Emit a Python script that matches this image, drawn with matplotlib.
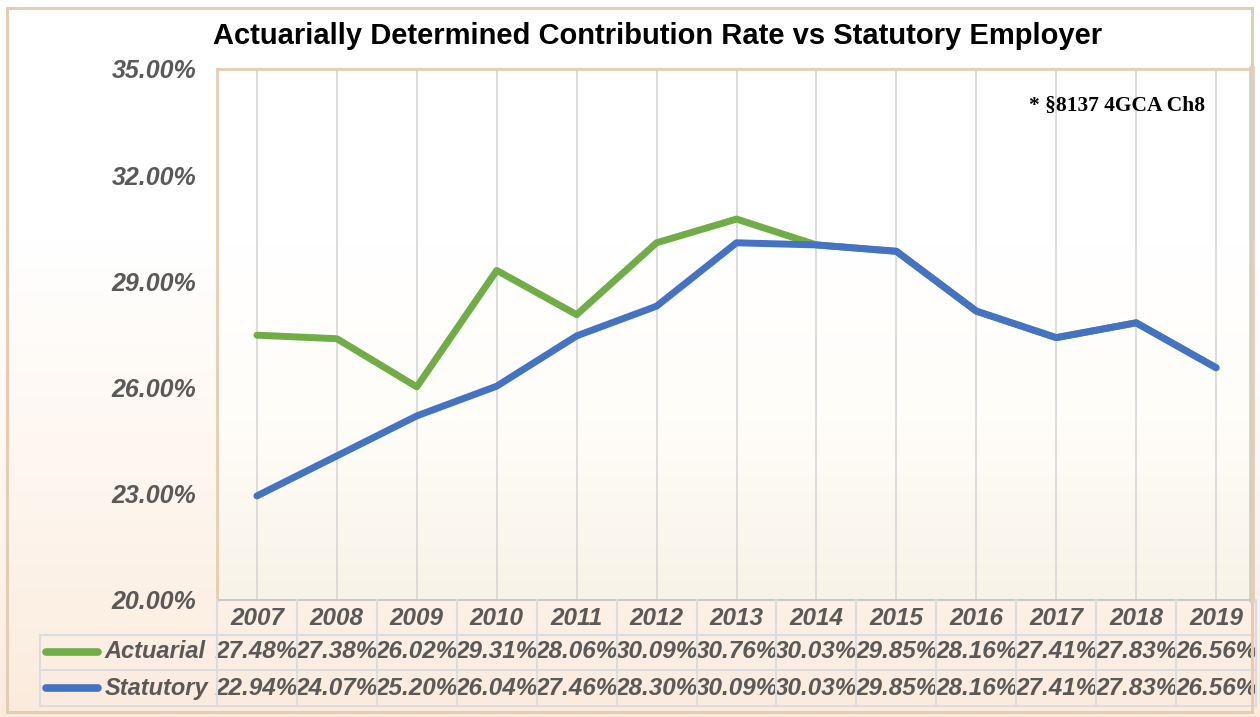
# Actuarial vs statutory contribution rate line chart with data table

import matplotlib
matplotlib.use("Agg")
import matplotlib.pyplot as plt
import numpy as np
from matplotlib.colors import LinearSegmentedColormap
from matplotlib.transforms import blended_transform_factory
from matplotlib.patches import Rectangle
from matplotlib.lines import Line2D

years = ['2007', '2008', '2009', '2010', '2011', '2012', '2013',
         '2014', '2015', '2016', '2017', '2018', '2019']
actuarial = [27.48, 27.38, 26.02, 29.31, 28.06, 30.09, 30.76,
             30.03, 29.85, 28.16, 27.41, 27.83, 26.56]
statutory = [22.94, 24.07, 25.20, 26.04, 27.46, 28.30, 30.09,
             30.03, 29.85, 28.16, 27.41, 27.83, 26.56]
series_names = ['Actuarial', 'Statutory']
yticks = [20, 23, 26, 29, 32, 35]

green = '#70AD47'
blue = '#4472C4'
gray_txt = '#595959'
tan = '#E6CDB2'
grid_c = '#D9DCE1'

plt.rcParams['font.family'] = ['Liberation Sans', 'DejaVu Sans']

fig = plt.figure(figsize=(12.6, 7.17), dpi=100)

# background gradient for whole figure
bg = fig.add_axes([0, 0, 1, 1], zorder=-5)
bg_cmap = LinearSegmentedColormap.from_list('bg', ['#FFFFFF', '#FFFFFF', '#FEF6EF', '#FBEBDD'])
bg.imshow(np.linspace(0, 1, 256).reshape(-1, 1), aspect='auto', cmap=bg_cmap,
          extent=[0, 1, 0, 1], origin='upper')
bg.set_axis_off()
fig.patches.append(Rectangle((0.0055, 0.007), 0.988, 0.982, transform=fig.transFigure,
                             fill=False, edgecolor=tan, lw=2.2, zorder=10))

ax = fig.add_axes([0.1722, 0.1632, 0.8215, 0.7406])
x = np.arange(len(years))

# plot area gradient
pa_cmap = LinearSegmentedColormap.from_list('pa', ['#FFFFFF', '#FFFFFF', '#FFFDF8', '#F8F3E8'])
ax.imshow(np.linspace(0, 1, 256).reshape(-1, 1), aspect='auto', cmap=pa_cmap,
          extent=[-0.5, 12.5, 20, 35], origin='upper', zorder=0)

for xi in x:
    ax.axvline(xi, color='#D9D9D9', lw=1.3, zorder=1)

ax.plot(x, actuarial, color=green, lw=5, solid_capstyle='round',
        solid_joinstyle='round', zorder=3)
ax.plot(x, statutory, color=blue, lw=5, solid_capstyle='round',
        solid_joinstyle='round', zorder=4)

ax.set_xlim(-0.5, 12.45)
ax.set_ylim(20, 35)
ax.set_yticks(yticks)
ax.set_yticklabels(['%.2f%%' % v for v in yticks], fontsize=18,
                   fontweight='bold', fontstyle='italic', color=gray_txt)
ax.tick_params(axis='y', length=0, pad=15)
ax.set_xticks([])
for s in ['left', 'top']:
    ax.spines[s].set_color(tan)
    ax.spines[s].set_linewidth(2)
ax.spines['right'].set_color('#D3CCC3')
ax.spines['right'].set_linewidth(4)
ax.spines['bottom'].set_color('#C9C9C9')
ax.spines['bottom'].set_linewidth(1.5)

fig.text(0.169, 0.950, 'Actuarially Determined Contribution Rate vs Statutory Employer',
         fontsize=21, fontweight='bold', color='black', va='center', ha='left')
ax.text(0.955, 0.93, '* \u00a78137 4GCA Ch8', transform=ax.transAxes,
        fontsize=15.5, fontweight='bold', family=['Liberation Serif', 'DejaVu Serif'],
        ha='right', va='center')

# data table below the axis
tr = blended_transform_factory(ax.transData, fig.transFigure)
y_hdr, y_row1, y_row2 = 0.138, 0.0907, 0.0404
lines_y = [0.1632, 0.1144, 0.0656, 0.0153]
txt_kw = dict(fontweight='bold', fontstyle='italic', color=gray_txt,
              ha='center', va='center', transform=tr)
for i, yr in enumerate(years):
    ax.text(i, y_hdr, yr, fontsize=17.5, **txt_kw)
    ax.text(i, y_row1, '%.2f%%' % actuarial[i], fontsize=17.5, **txt_kw)
    ax.text(i, y_row2, '%.2f%%' % statutory[i], fontsize=17.5, **txt_kw)

for xb in np.arange(-0.5, 13.0, 1.0):
    fig.add_artist(Line2D([xb, xb], [lines_y[0], lines_y[3]], transform=tr,
                          color=grid_c, lw=1.5))
for yl in lines_y[1:]:
    fig.add_artist(Line2D([0.0317, 0.996], [yl, yl], transform=fig.transFigure,
                          color=grid_c, lw=1.5))
fig.add_artist(Line2D([0.0317, 0.0317], [lines_y[1], lines_y[3]],
                      transform=fig.transFigure, color=grid_c, lw=1.5))

for yy, name, col in [(y_row1, series_names[0], green), (y_row2, series_names[1], blue)]:
    fig.add_artist(Line2D([0.0365, 0.078], [yy, yy], transform=fig.transFigure,
                          color=col, lw=5.5, solid_capstyle='round'))
    fig.text(0.083, yy, name, fontsize=17, fontweight='bold', fontstyle='italic',
             color=gray_txt, ha='left', va='center')

fig.savefig('out.png', dpi=100)
